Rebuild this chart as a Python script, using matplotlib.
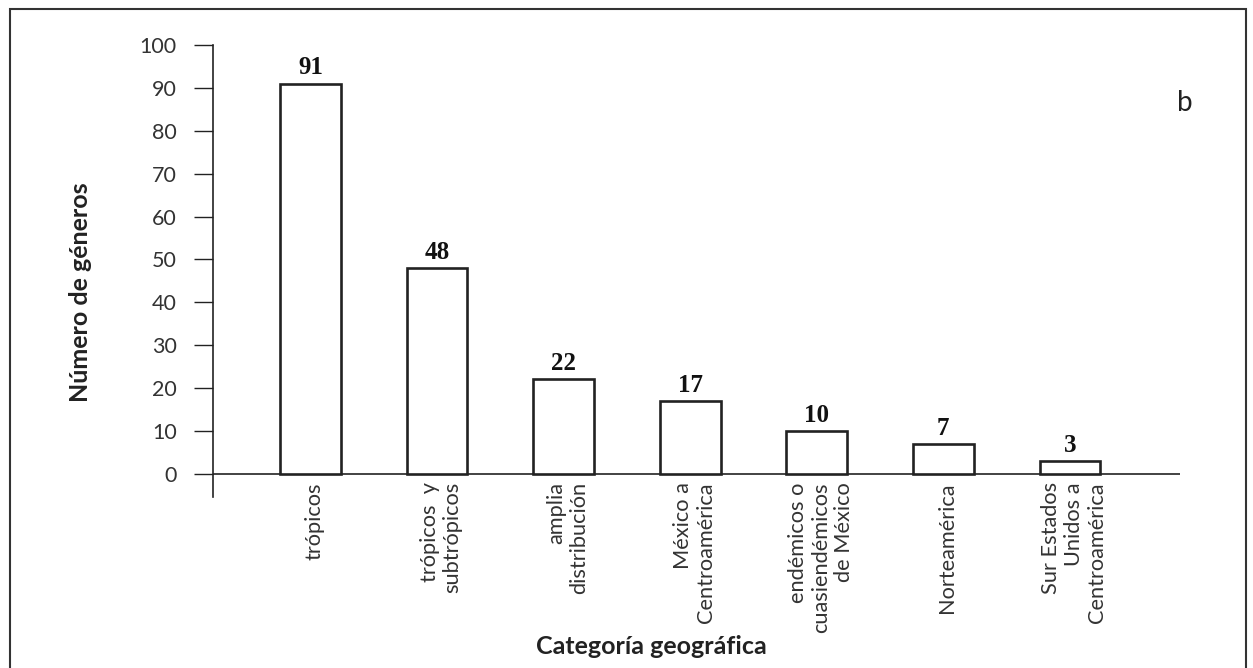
import matplotlib
matplotlib.use("Agg")
import matplotlib.pyplot as plt
from matplotlib.patches import Rectangle

categories = ["trópicos", "trópicos  y\nsubtrópicos", "amplia\ndistribución",
              "México a\nCentroamérica", "endémicos o\ncuasiendémicos\nde México",
              "Norteamérica", "Sur Estados\nUnidos a\nCentroamérica"]
values = [91, 48, 22, 17, 10, 7, 3]
yticks = [0, 10, 20, 30, 40, 50, 60, 70, 80, 90, 100]

W, H = 1253, 668
fig = plt.figure(figsize=(W / 100, H / 100), dpi=100)
ax = fig.add_axes([213 / W, 1 - 497 / H, (1180 - 213) / W, (497 - 45) / H])

sans = ["Lato", "DejaVu Sans"]
col = "#222222"
x = list(range(len(values)))
ax.bar(x, values, width=0.48, facecolor="white", edgecolor=col, linewidth=1.9, zorder=3)
ax.axhline(0, color=col, lw=1.2, zorder=2)

ax.set_xlim(-0.77, 6.87)
ax.set_ylim(-5.4, 100)
ax.set_yticks(yticks)
ax.set_yticklabels([str(t) for t in yticks], family=sans, fontsize=15.5, color="#333333")
ax.tick_params(axis="y", length=14, width=1.0, color=col, pad=12)
ax.set_xticks([])
for s in ["top", "right", "bottom"]:
    ax.spines[s].set_visible(False)
ax.spines["left"].set_color(col)
ax.spines["left"].set_linewidth(1.2)

for xi, v in zip(x, values):
    ax.annotate(str(v), (xi, v), xytext=(0, 3), textcoords="offset points",
                ha="center", va="bottom", family="Liberation Serif",
                fontweight="bold", fontsize=18, color="#111111")

for xi, c in zip(x, categories):
    ax.annotate(c, (xi, 0), xytext=(3, -6), textcoords="offset points",
                rotation=90, ha="center", va="top", multialignment="right",
                family=sans, fontsize=15.7, color="#333333", linespacing=1.2)

fig.text(80 / W, 1 - 292 / H, "Número de géneros", rotation=90, ha="center",
         va="center", family=sans, fontweight="bold", fontsize=18, color="#222222")
fig.text(651 / W, 1 - 646 / H, "Categoría geográfica", ha="center", va="center",
         family=sans, fontweight="bold", fontsize=18, color="#222222")
fig.text(1185 / W, 1 - 103 / H, "b", ha="center", va="center", family=sans,
         fontsize=20, color="#222222")

fig.patches.append(Rectangle((10 / W, -0.05), (1246 - 10) / W, 1 - 9 / H + 0.05,
                             transform=fig.transFigure, fill=False,
                             edgecolor="#333333", linewidth=1.5))

fig.savefig("out.png", dpi=100)
